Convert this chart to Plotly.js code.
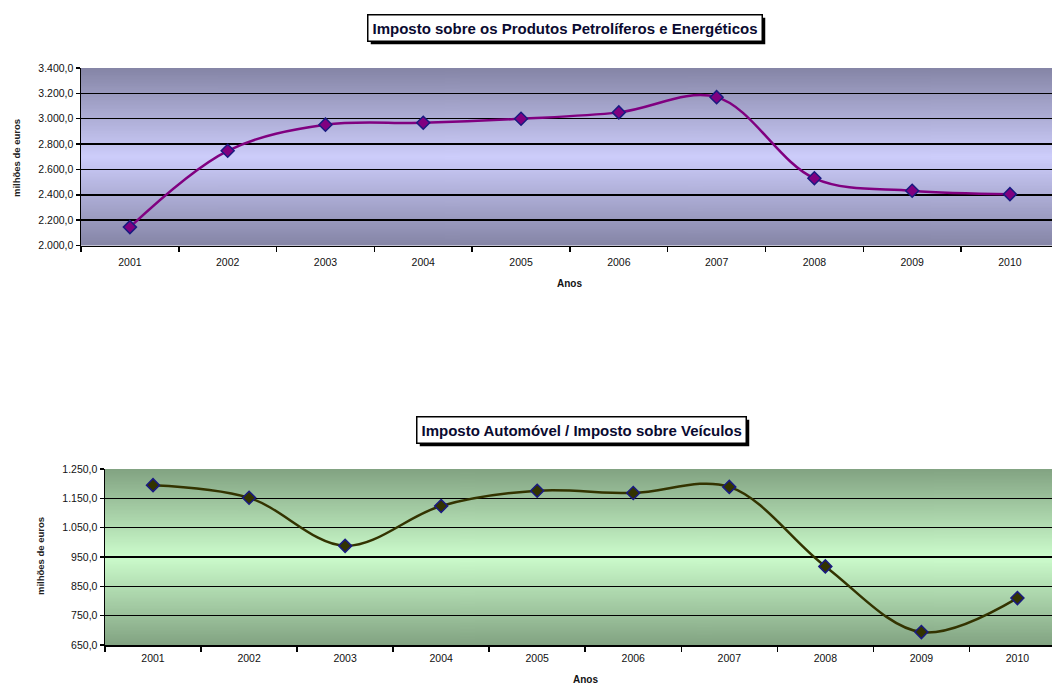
<!DOCTYPE html>
<html>
<head>
<meta charset="utf-8">
<script src="https://cdn.plot.ly/plotly-3.0.1.min.js"></script>
<style>html,body{margin:0;padding:0;background:#fff;}#chart{width:1052px;height:684px;}</style>
</head>
<body>
<div id="chart"></div>
<script>
// ---- data ----
const years = ['2001','2002','2003','2004','2005','2006','2007','2008','2009','2010'];
const ispValues = [2145, 2747, 2953, 2968, 3000, 3050, 3170, 2530, 2432, 2405];
const iaValues = [1195, 1152, 988, 1124, 1176, 1168, 1189, 918, 694, 810];
const title1 = 'Imposto sobre os Produtos Petrolíferos e Energéticos';
const title2 = 'Imposto Automóvel / Imposto sobre Veículos';
const yTitle = 'milhões de euros';
const xTitle = 'Anos';

// ---- styling helpers ----
function gradient(edge, mid) {
  const cv = document.createElement('canvas');
  cv.width = 4; cv.height = 256;
  const ctx = cv.getContext('2d');
  const g = ctx.createLinearGradient(0, 0, 0, 256);
  g.addColorStop(0, edge);
  g.addColorStop(0.5, mid);
  g.addColorStop(1, edge);
  ctx.fillStyle = g;
  ctx.fillRect(0, 0, 4, 256);
  return cv.toDataURL();
}

const W = 1052, H = 684;
const d1x = [81 / W, 1], d1y = [1 - 245.5 / H, 1 - 68 / H];
const d2x = [105 / W, 1], d2y = [1 - 645 / H, 1 - 469 / H];
const FONT = 'Liberation Sans, Arial, sans-serif';

const trace1 = {
  x: years, y: ispValues, xaxis: 'x', yaxis: 'y', type: 'scatter', mode: 'lines+markers',
  line: {shape: 'spline', smoothing: 1, color: '#800080', width: 2.5},
  marker: {symbol: 'diamond', size: 10, color: '#800080', line: {color: '#1a1a80', width: 1.5}},
  hoverinfo: 'x+y'
};
const trace2 = {
  x: years, y: iaValues, xaxis: 'x2', yaxis: 'y2', type: 'scatter', mode: 'lines+markers',
  line: {shape: 'spline', smoothing: 1, color: '#333300', width: 2.5},
  marker: {symbol: 'diamond', size: 10, color: '#333300', line: {color: '#1a1a80', width: 1.5}},
  hoverinfo: 'x+y'
};

const xCommon = {
  type: 'category', showgrid: false, showline: true, linecolor: '#000', linewidth: 1.5,
  ticks: 'outside', tickson: 'boundaries', ticklen: 5, tickcolor: '#000', tickwidth: 1.5,
  tickfont: {family: FONT, size: 10.5, color: '#111'}, zeroline: false, fixedrange: true
};
const yCommon = {
  showgrid: true, gridcolor: '#000', gridwidth: 1.5, showline: true, linecolor: '#000', linewidth: 1.5,
  ticks: 'outside', ticklen: 4, tickcolor: '#000', tickwidth: 1.5, zeroline: false,
  tickformat: ',.1f', separatethousands: true,
  tickfont: {family: FONT, size: 10.5, color: '#111'}, fixedrange: true
};

function titleBox(text, x, y) {
  return {text: '<b>' + text + '</b>', xref: 'paper', yref: 'paper', x: x, y: y,
    showarrow: false, borderwidth: 1.5, borderpad: 4, xanchor: 'center', yanchor: 'middle',
    bgcolor: '#fff', bordercolor: '#000', font: {family: FONT, size: 15, color: '#0a0a30'}};
}

const layout = {
  width: W, height: H, autosize: false,
  margin: {l: 0, r: 0, t: 0, b: 0},
  paper_bgcolor: '#fff', plot_bgcolor: 'rgba(0,0,0,0)',
  showlegend: false, separators: ',.',
  xaxis: Object.assign({}, xCommon, {domain: d1x, anchor: 'y', range: [-0.5, 9.43], ticklabelstandoff: 6}),
  yaxis: Object.assign({}, yCommon, {domain: d1y, anchor: 'x', range: [2000, 3400], dtick: 200, tick0: 2000}),
  xaxis2: Object.assign({}, xCommon, {domain: d2x, anchor: 'y2', range: [-0.5, 9.36], ticklabelstandoff: 3}),
  yaxis2: Object.assign({}, yCommon, {domain: d2y, anchor: 'x2', range: [650, 1250], dtick: 100, tick0: 650}),
  images: [
    {source: gradient('#8585a6', '#cdcdfb'), xref: 'paper', yref: 'paper', x: d1x[0], y: d1y[1],
      sizex: d1x[1] - d1x[0], sizey: d1y[1] - d1y[0], sizing: 'stretch', xanchor: 'left', yanchor: 'top', layer: 'below'},
    {source: gradient('#82a382', '#ccfccc'), xref: 'paper', yref: 'paper', x: d2x[0], y: d2y[1],
      sizex: d2x[1] - d2x[0], sizey: d2y[1] - d2y[0], sizing: 'stretch', xanchor: 'left', yanchor: 'top', layer: 'below'}
  ],
  annotations: [
    titleBox(title1, 565 / W, 1 - 28 / H),
    titleBox(title2, 581 / W, 1 - 430 / H),
    {text: '<b>' + yTitle + '</b>', xref: 'paper', yref: 'paper', x: 16 / W, y: 1 - 158 / H, textangle: -90,
      showarrow: false, font: {family: FONT, size: 9.5, color: '#222'}, xanchor: 'center', yanchor: 'middle'},
    {text: '<b>' + yTitle + '</b>', xref: 'paper', yref: 'paper', x: 40 / W, y: 1 - 556 / H, textangle: -90,
      showarrow: false, font: {family: FONT, size: 9.5, color: '#222'}, xanchor: 'center', yanchor: 'middle'},
    {text: '<b>' + xTitle + '</b>', xref: 'x', yref: 'paper', x: 4.5, y: 1 - 283 / H,
      showarrow: false, font: {family: FONT, size: 10, color: '#111'}, xanchor: 'center', yanchor: 'middle'},
    {text: '<b>' + xTitle + '</b>', xref: 'x2', yref: 'paper', x: 4.5, y: 1 - 679 / H,
      showarrow: false, font: {family: FONT, size: 10, color: '#111'}, xanchor: 'center', yanchor: 'middle'}
  ]
};

const gd = document.getElementById('chart');
Plotly.newPlot(gd, [trace1, trace2], layout, {displayModeBar: false, staticPlot: true}).then(function () {
  // drop shadows behind the two title boxes, measured from the rendered boxes
  const base = gd.getBoundingClientRect();
  const boxes = gd.querySelectorAll('.annotation .bg');
  const shapes = [];
  [0, 1].forEach(function (i) {
    const r = boxes[i].getBoundingClientRect();
    const x0 = r.left - base.left + 3, x1 = r.right - base.left + 3;
    const y0 = r.top - base.top + 3, y1 = r.bottom - base.top + 3;
    shapes.push({type: 'rect', xref: 'paper', yref: 'paper', layer: 'below',
      x0: x0 / W, x1: x1 / W, y0: 1 - y1 / H, y1: 1 - y0 / H,
      fillcolor: '#000', line: {width: 0}});
  });
  return Plotly.relayout(gd, {shapes: shapes});
});
</script>
</body>
</html>
